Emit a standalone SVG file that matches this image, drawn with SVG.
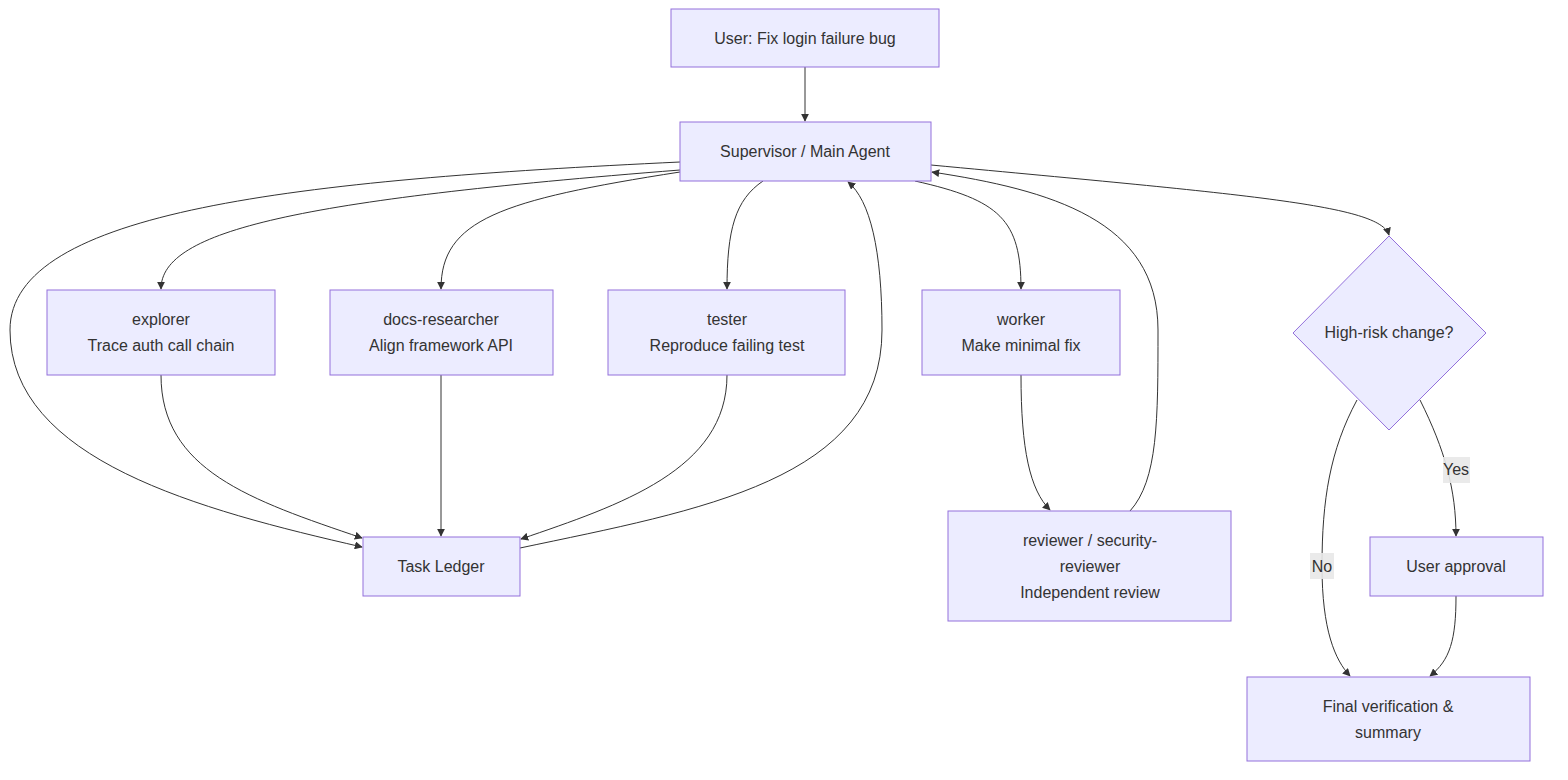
<svg xmlns="http://www.w3.org/2000/svg" width="1568" height="780" viewBox="0 0 1568 780">
<style>
.n{fill:#ECECFF;stroke:#9370DB;stroke-width:1}
.t{font-family:"Liberation Sans",Arial,sans-serif;font-size:16px;fill:#333;text-anchor:middle}
.e{fill:none;stroke:#333;stroke-width:1}
.lb{fill:#e8e8e8;opacity:0.9}
</style>
<defs><marker id="a" viewBox="0 0 10 10" refX="9" refY="5" markerWidth="8" markerHeight="8" orient="auto"><path d="M0,0L10,5L0,10z" fill="#333"/></marker></defs>
<rect width="1568" height="780" fill="#fff"/>
<g id="edges">
<path class="e" marker-end="url(#a)" d="M805,67V121"/>
<path class="e" marker-end="url(#a)" d="M680,170C300,200 161,230 161,289"/>
<path class="e" marker-end="url(#a)" d="M680,172C500,200 441,220 441,289"/>
<path class="e" marker-end="url(#a)" d="M763,181C735,200 727,230 727,289"/>
<path class="e" marker-end="url(#a)" d="M915,181C1000,200 1021,220 1021,289"/>
<path class="e" marker-end="url(#a)" d="M931,165C1250,195 1380,205 1389,235"/>
<path class="e" marker-end="url(#a)" d="M680,162C300,180 10,210 10,330C10,460 200,510 362,547"/>
<path class="e" marker-end="url(#a)" d="M161,375C161,470 250,500 362,538"/>
<path class="e" marker-end="url(#a)" d="M441,375V536"/>
<path class="e" marker-end="url(#a)" d="M727,375C727,470 620,505 521,539"/>
<path class="e" marker-end="url(#a)" d="M520,548C700,510 882,480 882,330C882,250 870,200 848,182"/>
<path class="e" marker-end="url(#a)" d="M1021,375C1021,450 1030,490 1050,510"/>
<path class="e" marker-end="url(#a)" d="M1130,511C1158,480 1158,420 1158,330C1158,220 1050,190 932,172"/>
<path class="e" marker-end="url(#a)" d="M1420,400C1445,450 1456,490 1456,536"/>
<path class="e" marker-end="url(#a)" d="M1357,400C1330,450 1322,500 1322,566C1322,630 1335,660 1350,676"/>
<path class="e" marker-end="url(#a)" d="M1456,596C1456,640 1450,660 1430,676"/>
<rect class="lb" x="1443" y="457" width="27" height="26"/><text class="t" x="1456" y="475">Yes</text>
<rect class="lb" x="1310" y="553" width="24" height="26"/><text class="t" x="1322" y="572">No</text>
</g>
<g id="user"><rect class="n" x="671" y="9" width="268" height="58"/><text class="t" x="805" y="44">User: Fix login failure bug</text></g>
<g id="sup"><rect class="n" x="680" y="122" width="251" height="59"/><text class="t" x="805" y="157">Supervisor / Main Agent</text></g>
<g id="explorer"><rect class="n" x="47" y="290" width="228" height="85"/><text class="t" x="161" y="325">explorer</text><text class="t" x="161" y="351">Trace auth call chain</text></g>
<g id="docs"><rect class="n" x="330" y="290" width="223" height="85"/><text class="t" x="441" y="325">docs-researcher</text><text class="t" x="441" y="351">Align framework API</text></g>
<g id="tester"><rect class="n" x="608" y="290" width="237" height="85"/><text class="t" x="727" y="325">tester</text><text class="t" x="727" y="351">Reproduce failing test</text></g>
<g id="worker"><rect class="n" x="922" y="290" width="198" height="85"/><text class="t" x="1021" y="325">worker</text><text class="t" x="1021" y="351">Make minimal fix</text></g>
<g id="risk"><path class="n" d="M1389,236L1486,333L1389,430L1293,333Z"/><text class="t" x="1389" y="338">High-risk change?</text></g>
<g id="ledger"><rect class="n" x="363" y="537" width="157" height="59"/><text class="t" x="441" y="572">Task Ledger</text></g>
<g id="reviewer"><rect class="n" x="948" y="511" width="283" height="110"/><text class="t" x="1090" y="546">reviewer / security-</text><text class="t" x="1090" y="572">reviewer</text><text class="t" x="1090" y="598">Independent review</text></g>
<g id="approval"><rect class="n" x="1370" y="537" width="173" height="59"/><text class="t" x="1456" y="572">User approval</text></g>
<g id="final"><rect class="n" x="1247" y="677" width="283" height="84"/><text class="t" x="1388" y="712">Final verification &amp;</text><text class="t" x="1388" y="738">summary</text></g>
</svg>
